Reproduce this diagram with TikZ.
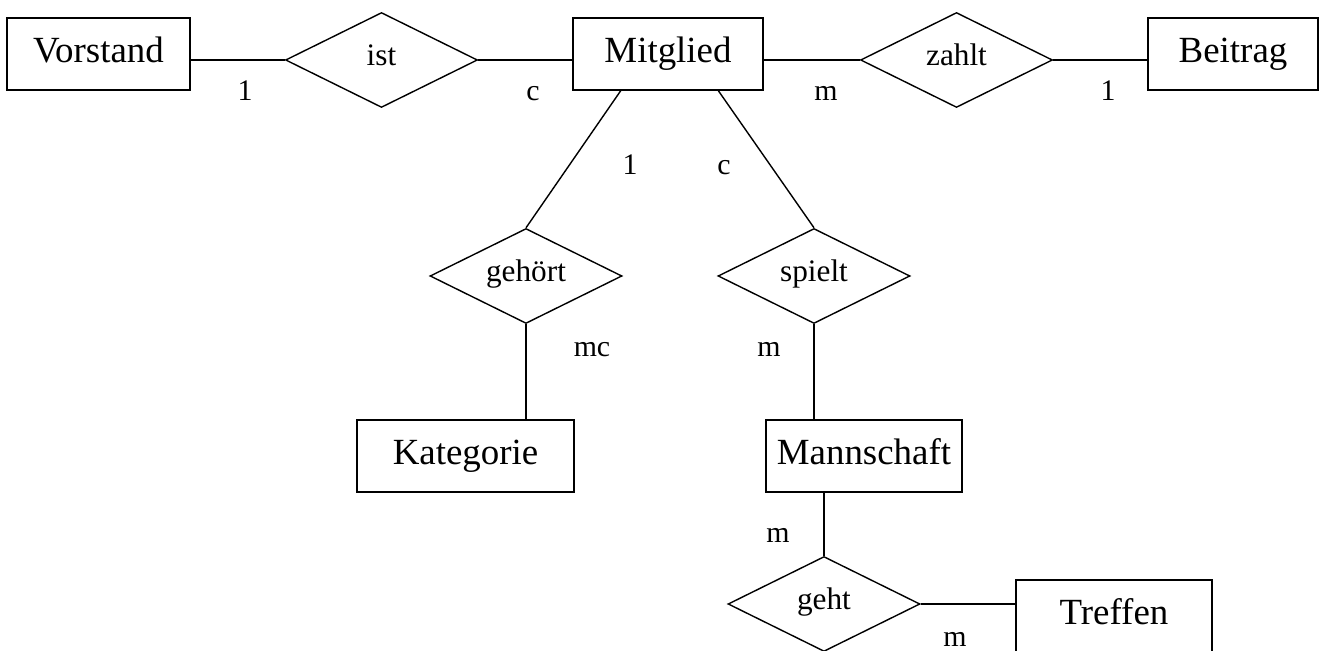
\documentclass[tikz,border=0pt]{standalone}
\usepackage{fontspec}
\setmainfont{Liberation Serif}
\usetikzlibrary{calc,shapes.geometric}

\tikzset{
  entity/.style={draw, rectangle, inner sep=0pt, minimum height=1.44cm,
    text height=14.7pt, text depth=5.25pt, font=\fontsize{21}{25}\selectfont},
  relation/.style={draw, diamond, aspect=2, inner sep=0pt, minimum width=3.84cm,
    minimum height=1.9cm, text height=12pt, text depth=5.2pt,
    font=\fontsize{17.8}{21}\selectfont},
  card/.style={anchor=base, inner sep=0pt, font=\fontsize{17}{20}\selectfont},
}

\begin{document}
\begin{tikzpicture}[x=0.02cm, y=-0.02cm, line width=0.8pt]
  \useasboundingbox (0,0) rectangle (1322,651);
  \clip (0,0) rectangle (1322,651);

  \node[entity, minimum width=3.66cm] at (98.5,54) (vorstand) {Vorstand};
  \node[relation] at (381.5,60) (ist) {ist};
  \node[entity, minimum width=3.8cm] at (668,54) (mitglied) {Mitglied};
  \node[relation] at (956.5,60) (zahlt) {zahlt};
  \node[entity, minimum width=3.4cm] at (1233,54) (beitrag) {Beitrag};

  \node[relation] at (526,276) (gehoert) {gehört};
  \node[relation] at (814,276) (spielt) {spielt};
  \node[entity, minimum width=4.34cm] at (465.5,456) (kategorie) {Kategorie};
  \node[entity, minimum width=3.92cm] at (864,456) (mannschaft) {Mannschaft};

  \node[relation] at (824,604) (geht) {geht};
  \node[entity, minimum width=3.92cm] at (1114,616) (treffen) {Treffen};

  \draw (ist.west) -- (ist.west -| vorstand.east);
  \draw (ist.east) -- (ist.east -| mitglied.west);
  \draw (zahlt.west) -- (zahlt.west -| mitglied.east);
  \draw (zahlt.east) -- (zahlt.east -| beitrag.west);

  \draw ($(mitglied.south west)!.253!(mitglied.south east)$) -- (gehoert.north);
  \draw ($(mitglied.south west)!.763!(mitglied.south east)$) -- (spielt.north);
  \draw (gehoert.south) -- (gehoert.south |- kategorie.north);
  \draw (spielt.south) -- (spielt.south |- mannschaft.north);
  \draw (geht.north) -- (geht.north |- mannschaft.south);
  \draw (geht.east) -- (geht.east -| treffen.west);

  \node[card] at (245,101) (c1) {1};
  \node[card] at (533,101) (c2) {c};
  \node[card] at (826,101) (c3) {m};
  \node[card] at (1108,101) (c4) {1};
  \node[card] at (630,175) (c5) {1};
  \node[card] at (724,175) (c6) {c};
  \node[card] at (592,357) (c7) {mc};
  \node[card] at (769,357) (c8) {m};
  \node[card] at (778,543) (c9) {m};
  \node[card] at (955,646) (c10) {m};
\end{tikzpicture}
\end{document}
